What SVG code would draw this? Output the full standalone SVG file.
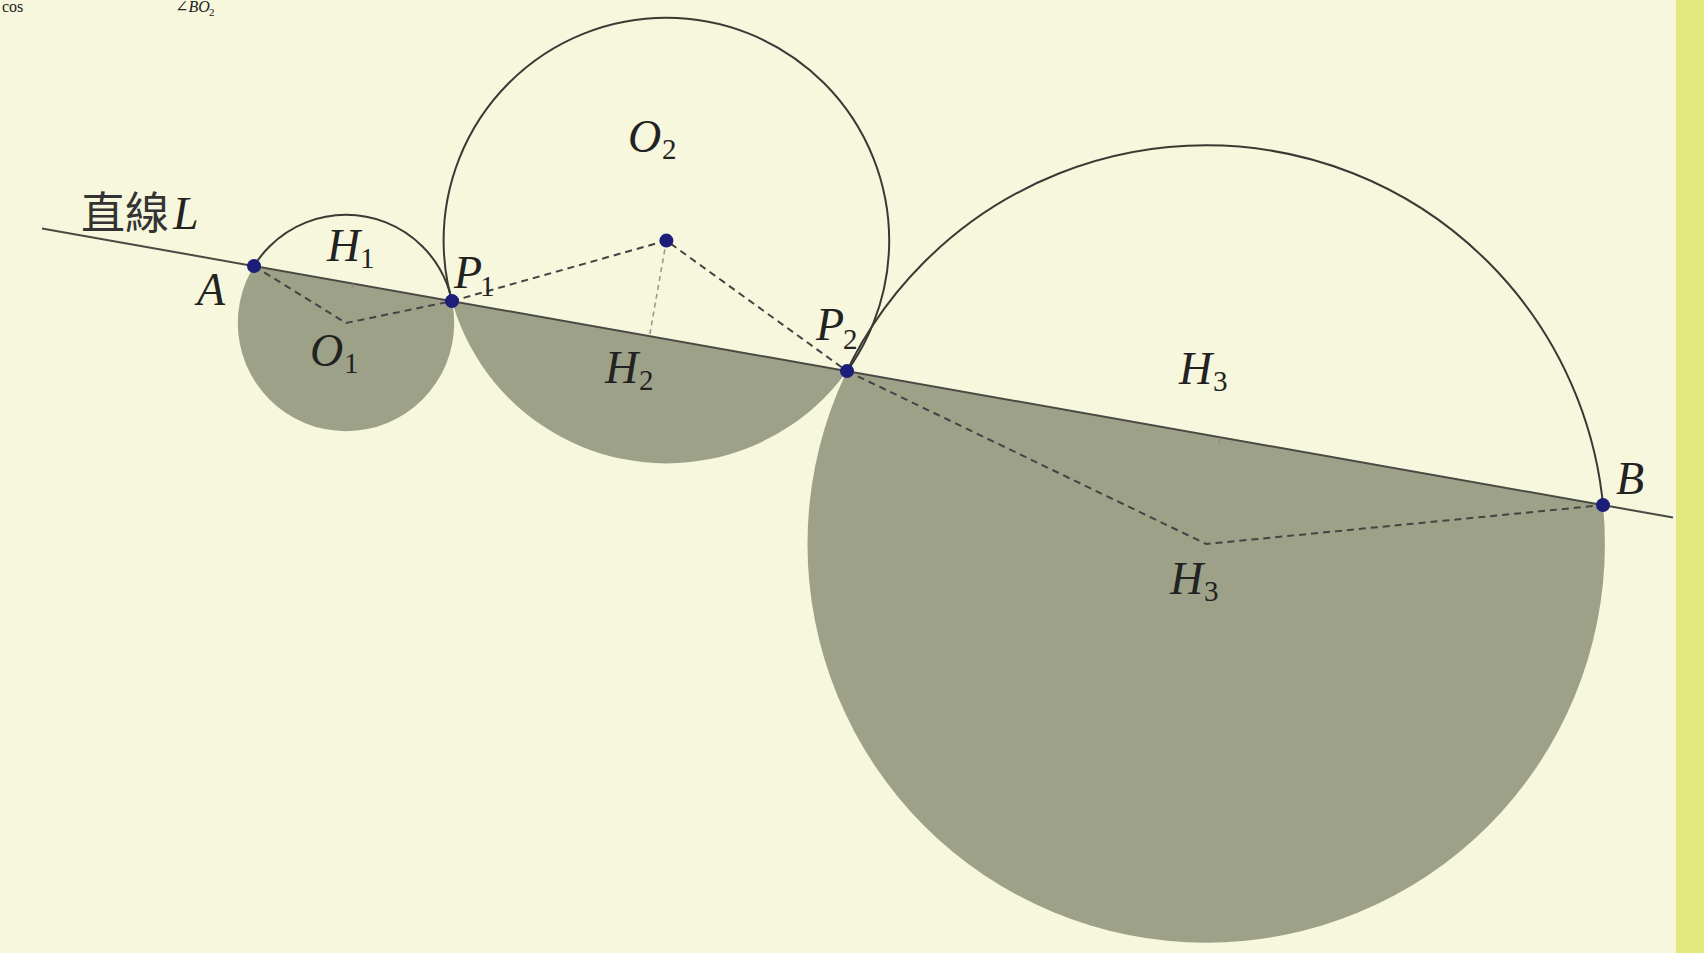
<svg xmlns="http://www.w3.org/2000/svg" width="1704" height="953" viewBox="0 0 1704 953">
  <defs>
    <style>
      .lbl { font-family: "Liberation Serif", "DejaVu Serif", serif; font-style: italic; font-size: 46px; fill: #222; }
      .sub { font-family: "Liberation Serif", "DejaVu Serif", serif; font-size: 29px; fill: #222; }
      .top { font-family: "Liberation Serif", "DejaVu Serif", serif; font-size: 16px; fill: #222; }
      .cjk { font-family: "Liberation Serif", "Noto Sans CJK TC", "Noto Sans CJK JP", serif; font-size: 44px; fill: #333; }
      .outline { fill: none; stroke: #3a3a35; stroke-width: 2; }
      .shade { fill: #9da188; stroke: none; }
      .dash { fill: none; stroke: #444; stroke-width: 2; stroke-dasharray: 7 5; }
      .dashlight { fill: none; stroke: #9a9a90; stroke-width: 1.6; stroke-dasharray: 5 4; }
      .pt { fill: #1d1d7a; }
    </style>
    <clipPath id="below">
      <polygon points="0,221.06 1704,523 1704,953 0,953"/>
    </clipPath>
    <clipPath id="above">
      <polygon points="0,0 1704,0 1704,523 0,221.06"/>
    </clipPath>
  </defs>

  <rect x="0" y="0" width="1704" height="953" fill="#f6f7dc"/>
  <rect x="1676" y="0" width="28" height="953" fill="#e2e77e"/>

  <!-- partly visible text at the top edge -->
  <g id="toptext">
    <text class="top" x="2" y="12">cos</text>
    <text class="top" x="175" y="12" style="font-style:italic">∠BO</text>
    <text class="top" x="209" y="16" style="font-size:11px">2</text>
  </g>

  <g id="circle1">
    <circle class="shade" cx="346" cy="323" r="108.2" clip-path="url(#below)"/>
    <circle class="outline" cx="346" cy="323" r="108.2" clip-path="url(#above)"/>
  </g>
  <g id="circle2">
    <circle class="shade" cx="666.4" cy="240.6" r="222.8" clip-path="url(#below)"/>
    <circle class="outline" cx="666.4" cy="240.6" r="222.8" clip-path="url(#above)"/>
  </g>
  <g id="circle3">
    <circle class="shade" cx="1206.2" cy="544" r="398.7" clip-path="url(#below)"/>
    <circle class="outline" cx="1206.2" cy="544" r="398.7" clip-path="url(#above)"/>
  </g>

  <g id="lineL">
    <line x1="42" y1="228.5" x2="1673" y2="517.5" stroke="#4a4a45" stroke-width="2"/>
    <text class="cjk" x="81" y="229">直線</text>
    <text class="lbl" x="173" y="229">L</text>
  </g>

  <g id="connectors">
    <polyline class="dash" points="254,266.1 346,323 452,301.1"/>
    <polyline class="dash" points="452,301.1 666.4,240.6 847,371.1"/>
    <polyline class="dash" points="847,371.1 1206.2,544 1603,505.1"/>
    <line class="dashlight" x1="666.4" y1="240.6" x2="649.5" y2="336.1"/>
    <line x1="353" y1="283.6" x2="352.2" y2="288" stroke="#888" stroke-width="1.5"/>
    <line x1="1220" y1="437.5" x2="1219.2" y2="443" stroke="#888" stroke-width="1.5"/>
  </g>

  <g id="A">
    <circle class="pt" cx="254" cy="266.1" r="7"/>
    <text class="lbl" x="197" y="305">A</text>
  </g>
  <g id="H1">
    <text class="lbl" x="327" y="261">H</text>
    <text class="sub" x="360" y="268">1</text>
  </g>
  <g id="O1">
    <text class="lbl" x="310" y="366">O</text>
    <text class="sub" x="344" y="373">1</text>
  </g>
  <g id="P1">
    <circle class="pt" cx="452" cy="301.1" r="7"/>
    <text class="lbl" x="454" y="288">P</text>
    <text class="sub" x="480" y="296">1</text>
  </g>
  <g id="O2">
    <circle class="pt" cx="666.4" cy="240.6" r="7"/>
    <text class="lbl" x="628" y="152">O</text>
    <text class="sub" x="662" y="159">2</text>
  </g>
  <g id="H2">
    <text class="lbl" x="605" y="383">H</text>
    <text class="sub" x="639" y="390">2</text>
  </g>
  <g id="P2">
    <circle class="pt" cx="847" cy="371.1" r="7"/>
    <text class="lbl" x="816" y="340">P</text>
    <text class="sub" x="843" y="349">2</text>
  </g>
  <g id="H3top">
    <text class="lbl" x="1179" y="384">H</text>
    <text class="sub" x="1213" y="391">3</text>
  </g>
  <g id="H3bottom">
    <text class="lbl" x="1170" y="594">H</text>
    <text class="sub" x="1204" y="601">3</text>
  </g>
  <g id="B">
    <circle class="pt" cx="1603" cy="505.1" r="7"/>
    <text class="lbl" x="1616" y="494">B</text>
  </g>
</svg>
